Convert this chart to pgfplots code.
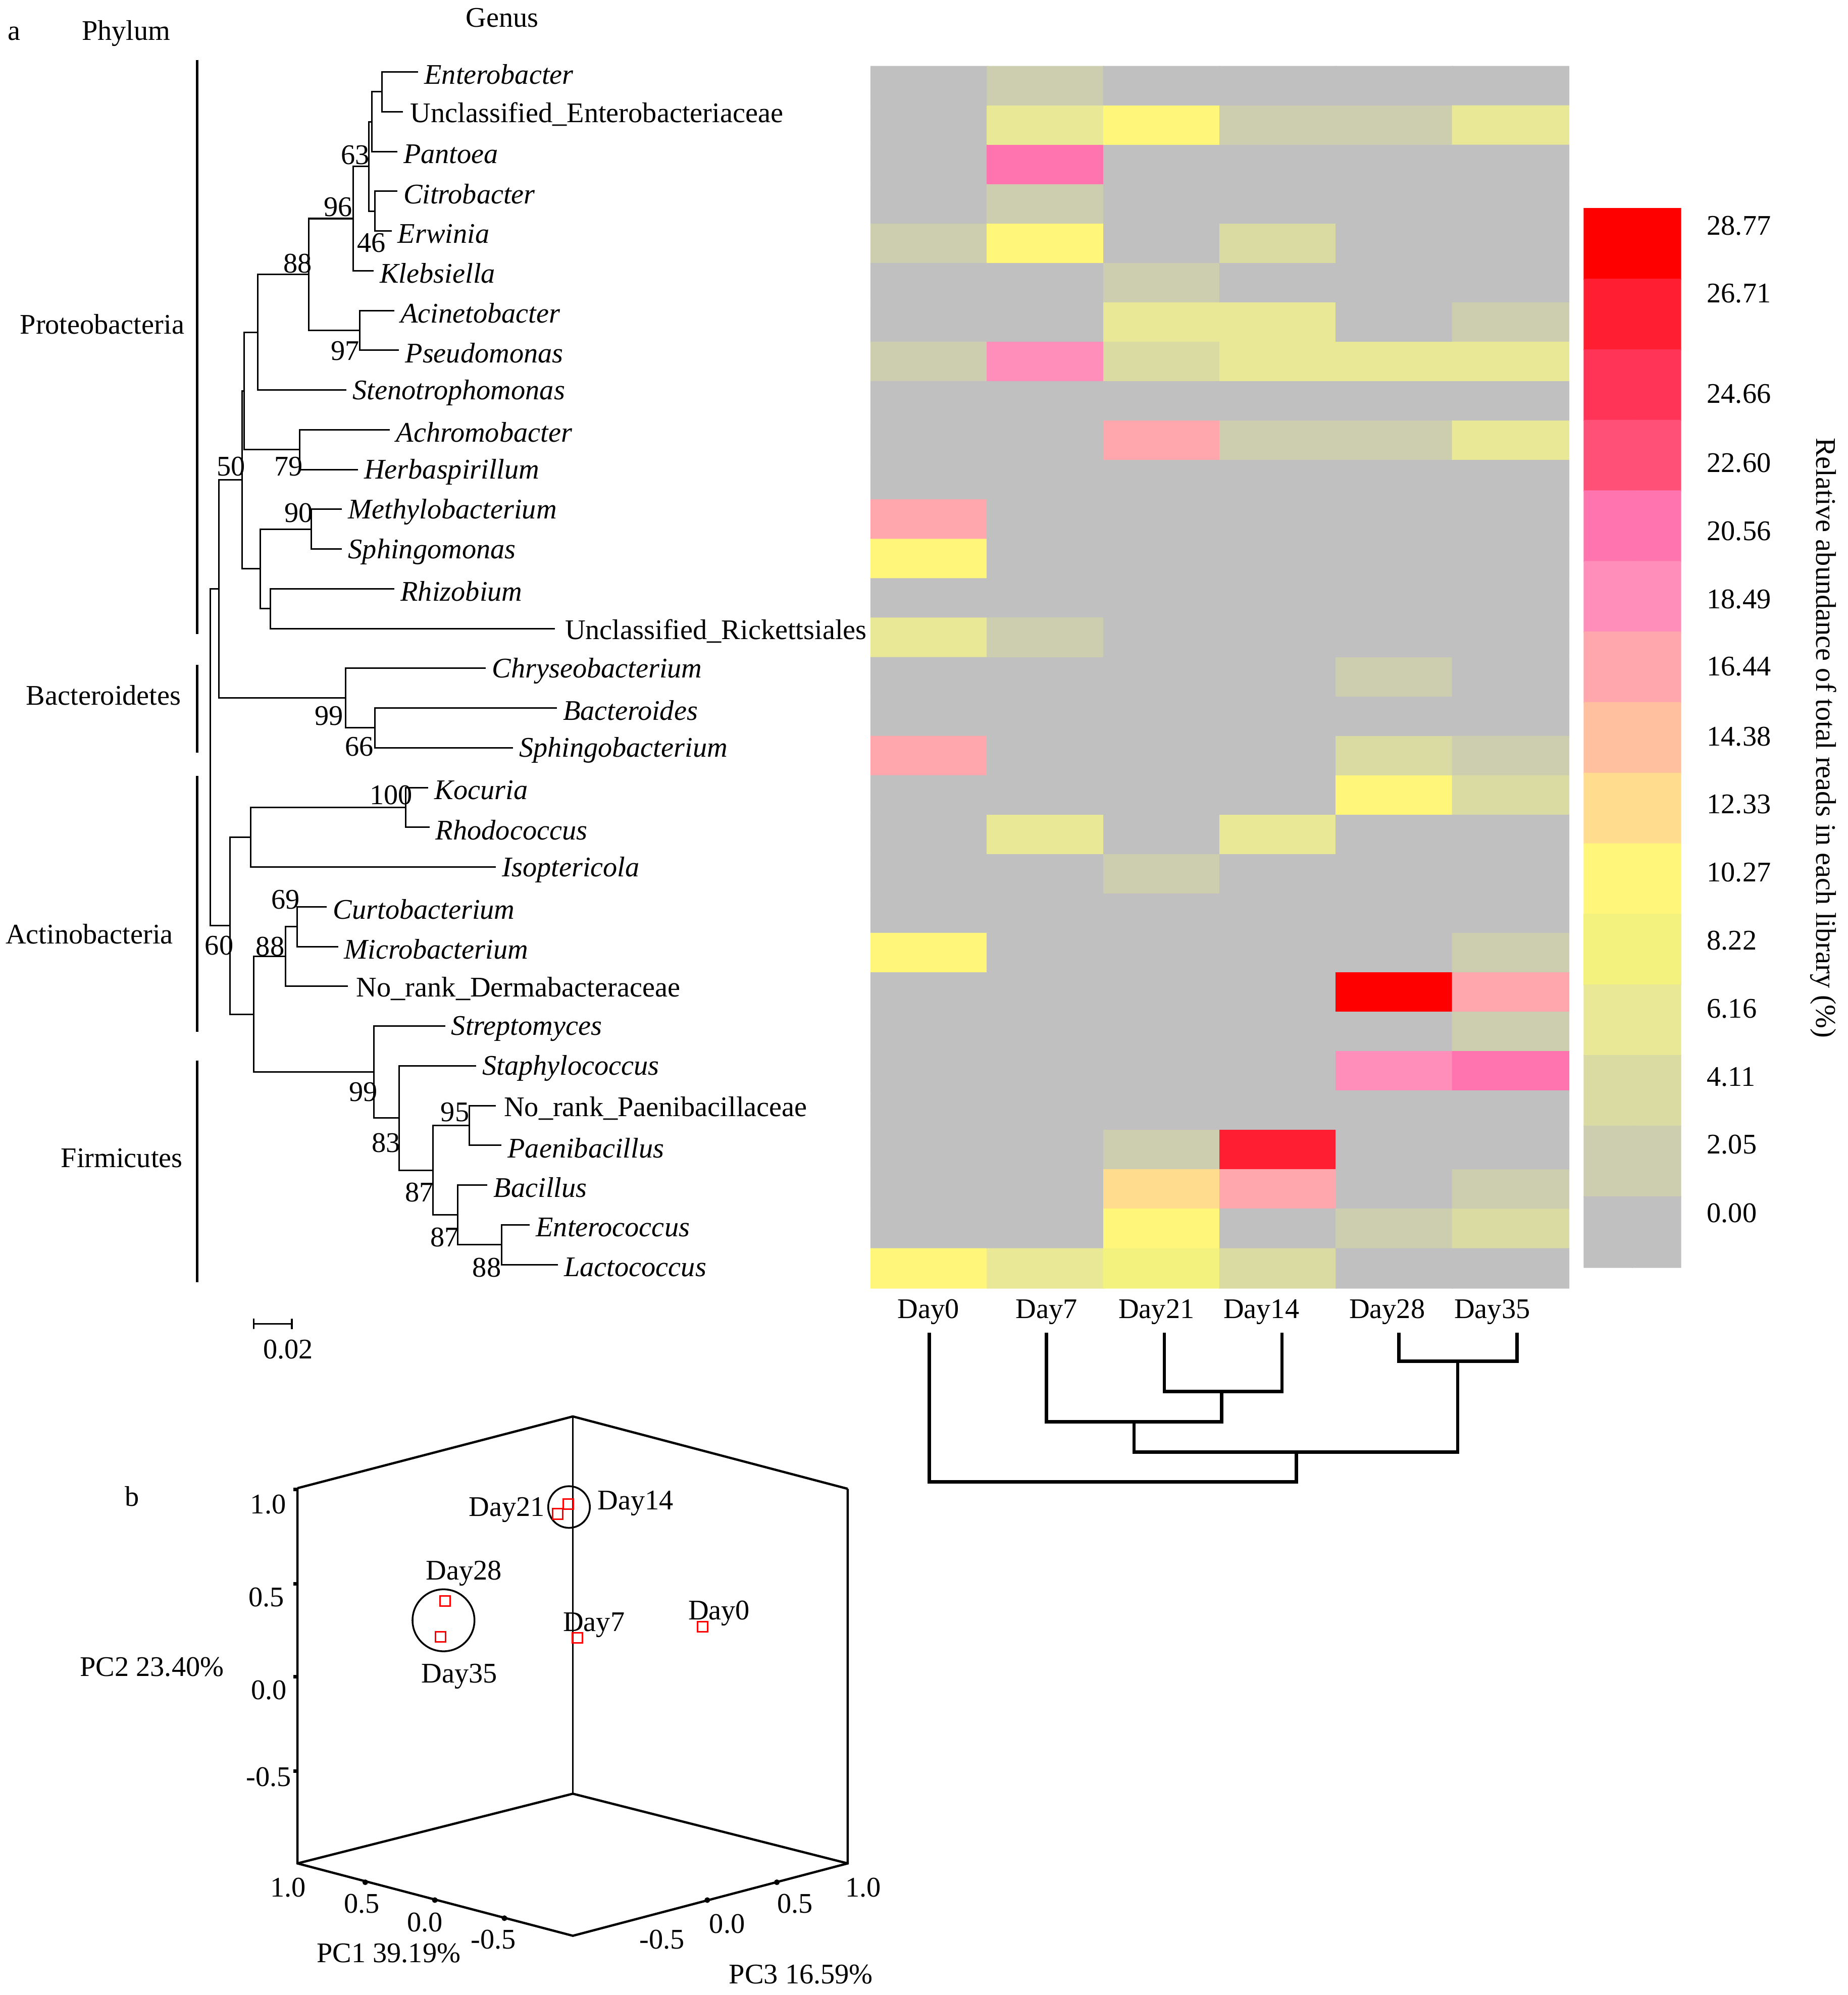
\documentclass[border=0pt]{standalone}
\usepackage{fontspec}
\setmainfont{Liberation Serif}
\usepackage{pgfplots}
\usepackage{pgfplotstable}
\pgfplotsset{compat=1.18}

% heat map: column c (Day0 Day7 Day21 Day14 Day28 Day35), row r (genus, top first), v = %
\pgfplotstableread[row sep=\\]{
c r v\\
0 0 0\\ 1 0 3.1\\ 2 0 0\\ 3 0 0\\ 4 0 0\\ 5 0 0\\
0 1 0\\ 1 1 7.2\\ 2 1 11.3\\ 3 1 3.1\\ 4 1 3.1\\ 5 1 7.2\\
0 2 0\\ 1 2 21.6\\ 2 2 0\\ 3 2 0\\ 4 2 0\\ 5 2 0\\
0 3 0\\ 1 3 3.1\\ 2 3 0\\ 3 3 0\\ 4 3 0\\ 5 3 0\\
0 4 3.1\\ 1 4 11.3\\ 2 4 0\\ 3 4 5.1\\ 4 4 0\\ 5 4 0\\
0 5 0\\ 1 5 0\\ 2 5 3.1\\ 3 5 0\\ 4 5 0\\ 5 5 0\\
0 6 0\\ 1 6 0\\ 2 6 7.2\\ 3 6 7.2\\ 4 6 0\\ 5 6 3.1\\
0 7 3.1\\ 1 7 19.5\\ 2 7 5.1\\ 3 7 7.2\\ 4 7 7.2\\ 5 7 7.2\\
0 8 0\\ 1 8 0\\ 2 8 0\\ 3 8 0\\ 4 8 0\\ 5 8 0\\
0 9 0\\ 1 9 0\\ 2 9 17.5\\ 3 9 3.1\\ 4 9 3.1\\ 5 9 7.2\\
0 10 0\\ 1 10 0\\ 2 10 0\\ 3 10 0\\ 4 10 0\\ 5 10 0\\
0 11 17.5\\ 1 11 0\\ 2 11 0\\ 3 11 0\\ 4 11 0\\ 5 11 0\\
0 12 11.3\\ 1 12 0\\ 2 12 0\\ 3 12 0\\ 4 12 0\\ 5 12 0\\
0 13 0\\ 1 13 0\\ 2 13 0\\ 3 13 0\\ 4 13 0\\ 5 13 0\\
0 14 7.2\\ 1 14 3.1\\ 2 14 0\\ 3 14 0\\ 4 14 0\\ 5 14 0\\
0 15 0\\ 1 15 0\\ 2 15 0\\ 3 15 0\\ 4 15 3.1\\ 5 15 0\\
0 16 0\\ 1 16 0\\ 2 16 0\\ 3 16 0\\ 4 16 0\\ 5 16 0\\
0 17 17.5\\ 1 17 0\\ 2 17 0\\ 3 17 0\\ 4 17 5.1\\ 5 17 3.1\\
0 18 0\\ 1 18 0\\ 2 18 0\\ 3 18 0\\ 4 18 11.3\\ 5 18 5.1\\
0 19 0\\ 1 19 7.2\\ 2 19 0\\ 3 19 7.2\\ 4 19 0\\ 5 19 0\\
0 20 0\\ 1 20 0\\ 2 20 3.1\\ 3 20 0\\ 4 20 0\\ 5 20 0\\
0 21 0\\ 1 21 0\\ 2 21 0\\ 3 21 0\\ 4 21 0\\ 5 21 0\\
0 22 11.3\\ 1 22 0\\ 2 22 0\\ 3 22 0\\ 4 22 0\\ 5 22 3.1\\
0 23 0\\ 1 23 0\\ 2 23 0\\ 3 23 0\\ 4 23 29.5\\ 5 23 17.5\\
0 24 0\\ 1 24 0\\ 2 24 0\\ 3 24 0\\ 4 24 0\\ 5 24 3.1\\
0 25 0\\ 1 25 0\\ 2 25 0\\ 3 25 0\\ 4 25 19.5\\ 5 25 21.6\\
0 26 0\\ 1 26 0\\ 2 26 0\\ 3 26 0\\ 4 26 0\\ 5 26 0\\
0 27 0\\ 1 27 0\\ 2 27 3.1\\ 3 27 27.7\\ 4 27 0\\ 5 27 0\\
0 28 0\\ 1 28 0\\ 2 28 13.4\\ 3 28 17.5\\ 4 28 0\\ 5 28 3.1\\
0 29 0\\ 1 29 0\\ 2 29 11.3\\ 3 29 0\\ 4 29 3.1\\ 5 29 5.1\\
0 30 11.3\\ 1 30 7.2\\ 2 30 9.2\\ 3 30 5.1\\ 4 30 0\\ 5 30 0\\
}\heat

% colour key, one band per row (top first)
\pgfplotstableread[row sep=\\]{
c r v\\
0 0 29.8\\ 1 0 29.8\\ 0 1 27.7\\ 1 1 27.7\\ 0 2 25.7\\ 1 2 25.7\\
0 3 23.6\\ 1 3 23.6\\ 0 4 21.6\\ 1 4 21.6\\ 0 5 19.5\\ 1 5 19.5\\
0 6 17.5\\ 1 6 17.5\\ 0 7 15.4\\ 1 7 15.4\\ 0 8 13.4\\ 1 8 13.4\\
0 9 11.3\\ 1 9 11.3\\ 0 10 9.2\\ 1 10 9.2\\ 0 11 7.2\\ 1 11 7.2\\
0 12 5.1\\ 1 12 5.1\\ 0 13 3.1\\ 1 13 3.1\\ 0 14 1.0\\ 1 14 1.0\\
}\cbar

\begin{document}
\begin{tikzpicture}[every node/.style={font=\fontsize{11.2}{13}\selectfont, inner sep=0pt}]
\begin{axis}[
  width=725bp, height=782.9bp, scale only axis,
  xmin=0, xmax=1450, ymin=0, ymax=1565.8, y dir=reverse,
  hide axis, clip=false,
  colormap={hm}{rgb255(0cm)=(192,192,192); rgb255(1cm)=(205,206,176);
    rgb255(2cm)=(218,218,163); rgb255(3cm)=(232,232,150); rgb255(4cm)=(244,242,127);
    rgb255(5cm)=(255,246,122); rgb255(6cm)=(255,220,142); rgb255(7cm)=(255,192,160);
    rgb255(8cm)=(255,167,173); rgb255(9cm)=(255,143,186); rgb255(10cm)=(255,116,174);
    rgb255(11cm)=(255,80,120); rgb255(12cm)=(255,52,86); rgb255(13cm)=(255,30,50);
    rgb255(14cm)=(255,0,0); rgb255(15cm)=(255,0,0)},
  colormap access=piecewise const,
  point meta min=0, point meta max=30.825,
  tree/.style={black, line width=0.6pt},
  phy/.style={black, line width=1.1pt},
  dend/.style={black, line width=1.3pt},
  box/.style={black, line width=0.9pt},
]
\path (axis cs:0,0) rectangle (axis cs:1450,1565.8);

% heat map and key
\addplot[matrix plot*, mesh/cols=6, point meta=explicit, shader=flat corner]
  table[x expr=729.05+91.27*\thisrow{c}, y expr=67.57+30.93*\thisrow{r}, meta=v] {\heat};
\addplot[matrix plot*, mesh/cols=2, point meta=explicit, shader=flat corner]
  table[x expr=1261.95+37.9*\thisrow{c}, y expr=191.4+55.4*\thisrow{r}, meta=v] {\cbar};

% tree
\addplot[tree] coordinates {(328.1,56.5) (299.8,56.5) (299.8,87.7) (316.2,87.7)};
\addplot[tree] coordinates {(299.8,72.1) (291.8,72.1) (291.8,118.9) (311.7,118.9)};
\addplot[tree] coordinates {(311.7,150.1) (294.1,150.1) (294.1,181.3) (307.3,181.3)};
\addplot[tree] coordinates {(291.8,95.5) (289.6,95.5) (289.6,165.7) (294.1,165.7)};
\addplot[tree] coordinates {(289.6,130.6) (277.3,130.6) (277.3,212.5) (293.2,212.5)};
\addplot[tree] coordinates {(309.5,243.7) (282.1,243.7) (282.1,274.9) (313.1,274.9)};
\addplot[tree] coordinates {(277.3,171.55) (242.3,171.55) (242.3,259.3) (282.1,259.3)};
\addplot[tree] coordinates {(242.3,215.4) (202.1,215.4) (202.1,306.1) (271.9,306.1)};
\addplot[tree] coordinates {(306.0,337.3) (235.2,337.3) (235.2,368.5) (280.8,368.5)};
\addplot[tree] coordinates {(202.1,260.75) (191.5,260.75) (191.5,352.9) (235.2,352.9)};
\addplot[tree] coordinates {(268.4,399.7) (244.1,399.7) (244.1,430.9) (268.4,430.9)};
\addplot[tree] coordinates {(309.5,462.1) (212.3,462.1) (212.3,493.3) (435.6,493.3)};
\addplot[tree] coordinates {(244.1,415.3) (204.3,415.3) (204.3,477.7) (212.3,477.7)};
\addplot[tree] coordinates {(191.5,306.8) (190.0,306.8) (190.0,446.5) (204.3,446.5)};
\addplot[tree] coordinates {(436.9,555.7) (294.1,555.7) (294.1,586.9) (402.4,586.9)};
\addplot[tree] coordinates {(381.2,524.5) (271.1,524.5) (271.1,571.3) (294.1,571.3)};
\addplot[tree] coordinates {(190.0,376.65) (171.6,376.65) (171.6,547.9) (271.1,547.9)};
\addplot[tree] coordinates {(336.1,618.1) (318.4,618.1) (318.4,649.3) (337.0,649.3)};
\addplot[tree] coordinates {(318.4,633.7) (196.8,633.7) (196.8,680.5) (389.1,680.5)};
\addplot[tree] coordinates {(256.5,711.7) (233.0,711.7) (233.0,742.9) (265.3,742.9)};
\addplot[tree] coordinates {(233.0,727.3) (224.2,727.3) (224.2,774.1) (272.8,774.1)};
\addplot[tree] coordinates {(389.1,867.7) (368.3,867.7) (368.3,898.9) (393.5,898.9)};
\addplot[tree] coordinates {(415.7,961.3) (393.5,961.3) (393.5,992.5) (437.8,992.5)};
\addplot[tree] coordinates {(382.5,930.1) (359.1,930.1) (359.1,976.9) (393.5,976.9)};
\addplot[tree] coordinates {(368.3,883.3) (339.6,883.3) (339.6,953.5) (359.1,953.5)};
\addplot[tree] coordinates {(373.6,836.5) (313.1,836.5) (313.1,918.4) (339.6,918.4)};
\addplot[tree] coordinates {(349.3,805.3) (293.2,805.3) (293.2,877.45) (313.1,877.45)};
\addplot[tree] coordinates {(224.2,750.7) (199.0,750.7) (199.0,841.4) (293.2,841.4)};
\addplot[tree] coordinates {(196.8,657.1) (180.4,657.1) (180.4,796.05) (199.0,796.05)};
\addplot[tree] coordinates {(171.6,462.3) (164.9,462.3) (164.9,726.6) (180.4,726.6)};
% scale bar
\addplot[tree] coordinates {(199,1035) (199,1043) (199,1039) (229,1039) (229,1035) (229,1043)};

% phylum bars
\addplot[phy] coordinates {(154.8,47) (154.8,497.7)};
\addplot[phy] coordinates {(154.8,521.7) (154.8,590.7)};
\addplot[phy] coordinates {(154.8,609.1) (154.8,810)};
\addplot[phy] coordinates {(154.8,832.3) (154.8,1006.3)};

% sample dendrogram
\addplot[dend] coordinates {(913.6,1046) (913.6,1092.2) (1005.9,1092.2) (1005.9,1046)};
\addplot[dend] coordinates {(1097.6,1046) (1097.6,1068.4) (1190.3,1068.4) (1190.3,1046)};
\addplot[dend] coordinates {(821.2,1046) (821.2,1116) (958.7,1116) (958.7,1092.2)};
\addplot[dend] coordinates {(889.8,1116) (889.8,1139.7) (1143.8,1139.7) (1143.8,1068.4)};
\addplot[dend] coordinates {(729.2,1046) (729.2,1163) (1017.3,1163) (1017.3,1139.7)};

% PCA box
\addplot[box] coordinates {(233.4,1168) (449.5,1111.7) (665.2,1168.5)};
\addplot[black, line width=0.5pt] coordinates {(449.5,1111.7) (449.5,1407.8)};
\addplot[box] coordinates {(233.4,1168) (233.4,1462.5) (449.5,1519.3) (665.2,1462.5) (665.2,1168.5)};
\addplot[box] coordinates {(233.4,1462.5) (449.5,1407.8) (665.2,1462.5)};
\addplot[black, line width=1.4pt, unbounded coords=jump] coordinates {
  (230.2,1169.1) (234,1169.1) (nan,nan) (230.2,1242.9) (234,1242.9) (nan,nan)
  (230.2,1315.8) (234,1315.8) (nan,nan) (230.2,1390.2) (234,1390.2)};
\addplot[only marks, mark=*, mark size=0.9pt, black] coordinates {
  (286.6,1477.3) (341.2,1491.3) (395.8,1505.5) (555,1491.3) (609.6,1477.3)};
% PCA samples
\addplot[only marks, mark=o, mark size=8.2pt, black, line width=0.7pt] coordinates {(446.5,1182.8)};
\addplot[only marks, mark=o, mark size=12.2pt, black, line width=0.7pt] coordinates {(348,1271.7)};
\addplot[only marks, mark=square, mark size=2pt, red, line width=0.6pt] coordinates {
  (437.7,1188.2) (445.9,1180.6) (349.4,1256.5) (345.8,1284.8) (453.1,1285.4) (551.4,1276.9)};

% headings
\node at (axis cs:11,26.3) {a};
\node at (axis cs:99,26.3) {Phylum};
\node at (axis cs:394,13.8) {Genus};
\node[anchor=east] at (axis cs:145,254.6) {Proteobacteria};
\node[anchor=east] at (axis cs:142.4,545.8) {Bacteroidetes};
\node[anchor=east] at (axis cs:136.2,732.9) {Actinobacteria};
\node[anchor=east] at (axis cs:143.7,909.1) {Firmicutes};

% genus names
\node[anchor=west] at (axis cs:332.6,58.5) {\textit{Enterobacter}};
\node[anchor=west] at (axis cs:321.7,89.7) {Unclassified\_Enterobacteriaceae};
\node[anchor=west] at (axis cs:316.2,120.9) {\textit{Pantoea}};
\node[anchor=west] at (axis cs:316.2,152.1) {\textit{Citrobacter}};
\node[anchor=west] at (axis cs:311.8,183.3) {\textit{Erwinia}};
\node[anchor=west] at (axis cs:297.7,214.5) {\textit{Klebsiella}};
\node[anchor=west] at (axis cs:314.0,245.7) {\textit{Acinetobacter}};
\node[anchor=west] at (axis cs:317.6,276.9) {\textit{Pseudomonas}};
\node[anchor=west] at (axis cs:276.4,308.1) {\textit{Stenotrophomonas}};
\node[anchor=west] at (axis cs:310.5,339.3) {\textit{Achromobacter}};
\node[anchor=west] at (axis cs:285.3,370.5) {\textit{Herbaspirillum}};
\node[anchor=west] at (axis cs:272.9,401.7) {\textit{Methylobacterium}};
\node[anchor=west] at (axis cs:272.9,432.9) {\textit{Sphingomonas}};
\node[anchor=west] at (axis cs:314.0,464.1) {\textit{Rhizobium}};
\node[anchor=west] at (axis cs:443.0,495.3) {Unclassified\_Rickettsiales};
\node[anchor=west] at (axis cs:385.7,526.5) {\textit{Chryseobacterium}};
\node[anchor=west] at (axis cs:441.4,557.7) {\textit{Bacteroides}};
\node[anchor=west] at (axis cs:406.9,588.9) {\textit{Sphingobacterium}};
\node[anchor=west] at (axis cs:340.6,620.1) {\textit{Kocuria}};
\node[anchor=west] at (axis cs:341.5,651.3) {\textit{Rhodococcus}};
\node[anchor=west] at (axis cs:393.6,682.5) {\textit{Isoptericola}};
\node[anchor=west] at (axis cs:261.0,713.7) {\textit{Curtobacterium}};
\node[anchor=west] at (axis cs:269.8,744.9) {\textit{Microbacterium}};
\node[anchor=west] at (axis cs:279.3,776.1) {No\_rank\_Dermabacteraceae};
\node[anchor=west] at (axis cs:353.8,807.3) {\textit{Streptomyces}};
\node[anchor=west] at (axis cs:378.1,838.5) {\textit{Staphylococcus}};
\node[anchor=west] at (axis cs:395.1,869.7) {No\_rank\_Paenibacillaceae};
\node[anchor=west] at (axis cs:398.0,900.9) {\textit{Paenibacillus}};
\node[anchor=west] at (axis cs:387.0,932.1) {\textit{Bacillus}};
\node[anchor=west] at (axis cs:420.2,963.3) {\textit{Enterococcus}};
\node[anchor=west] at (axis cs:442.3,994.5) {\textit{Lactococcus}};

% bootstrap values
\node at (axis cs:278.6,121.5) {63};
\node at (axis cs:265.3,162.6) {96};
\node at (axis cs:291.6,190.5) {46};
\node at (axis cs:233.6,207) {88};
\node at (axis cs:270.9,275.3) {97};
\node at (axis cs:181.3,366.3) {50};
\node at (axis cs:226.4,366.3) {79};
\node at (axis cs:234.4,402.4) {90};
\node at (axis cs:258,562) {99};
\node at (axis cs:282,586) {66};
\node at (axis cs:307,624) {100};
\node at (axis cs:224,706) {69};
\node at (axis cs:172,742) {60};
\node at (axis cs:212,743) {88};
\node at (axis cs:285,857) {99};
\node at (axis cs:357,873) {95};
\node at (axis cs:303,897) {83};
\node at (axis cs:329,936) {87};
\node at (axis cs:349,971) {87};
\node at (axis cs:382,995) {88};
\node at (axis cs:226,1059) {0.02};

% sample names
\node at (axis cs:728.5,1029.8) {Day0};
\node at (axis cs:821.2,1029.8) {Day7};
\node at (axis cs:907.4,1029.8) {Day21};
\node at (axis cs:989.8,1029.8) {Day14};
\node at (axis cs:1088.4,1029.8) {Day28};
\node at (axis cs:1170.9,1029.8) {Day35};

% key labels
\node[anchor=west] at (axis cs:1339,177) {28.77};
\node[anchor=west] at (axis cs:1339,230.2) {26.71};
\node[anchor=west] at (axis cs:1339,309) {24.66};
\node[anchor=west] at (axis cs:1339,363.4) {22.60};
\node[anchor=west] at (axis cs:1339,416.8) {20.56};
\node[anchor=west] at (axis cs:1339,470.2) {18.49};
\node[anchor=west] at (axis cs:1339,523.1) {16.44};
\node[anchor=west] at (axis cs:1339,578) {14.38};
\node[anchor=west] at (axis cs:1339,631.3) {12.33};
\node[anchor=west] at (axis cs:1339,684.7) {10.27};
\node[anchor=west] at (axis cs:1339,738.2) {8.22};
\node[anchor=west] at (axis cs:1339,791.6) {6.16};
\node[anchor=west] at (axis cs:1339,845.3) {4.11};
\node[anchor=west] at (axis cs:1339,898.2) {2.05};
\node[anchor=west] at (axis cs:1339,952.2) {0.00};
\node[rotate=-90] at (axis cs:1430.6,579) {Relative abundance of total reads in each library (\%)};

% PCA labels
\node at (axis cs:103.7,1174.5) {b};
\node at (axis cs:210.4,1180.6) {1.0};
\node at (axis cs:209,1253.5) {0.5};
\node at (axis cs:211,1326.4) {0.0};
\node at (axis cs:211,1394.7) {-0.5};
\node at (axis cs:119.2,1308.2) {PC2 23.40\%};
\node at (axis cs:226,1481.3) {1.0};
\node at (axis cs:284,1494) {0.5};
\node at (axis cs:333.3,1508.6) {0.0};
\node at (axis cs:387.3,1522.3) {-0.5};
\node at (axis cs:305,1533) {PC1 39.19\%};
\node at (axis cs:519.5,1522.3) {-0.5};
\node at (axis cs:570.6,1510.1) {0.0};
\node at (axis cs:623.8,1494) {0.5};
\node at (axis cs:677.2,1481.3) {1.0};
\node at (axis cs:628.5,1549.6) {PC3 16.59\%};
\node at (axis cs:397.6,1185.2) {Day21};
\node at (axis cs:498.6,1180) {Day14};
\node at (axis cs:364,1234.7) {Day28};
\node at (axis cs:360.5,1315.8) {Day35};
\node at (axis cs:466,1275.4) {Day7};
\node at (axis cs:564.2,1266.3) {Day0};
\end{axis}
\end{tikzpicture}
\end{document}
